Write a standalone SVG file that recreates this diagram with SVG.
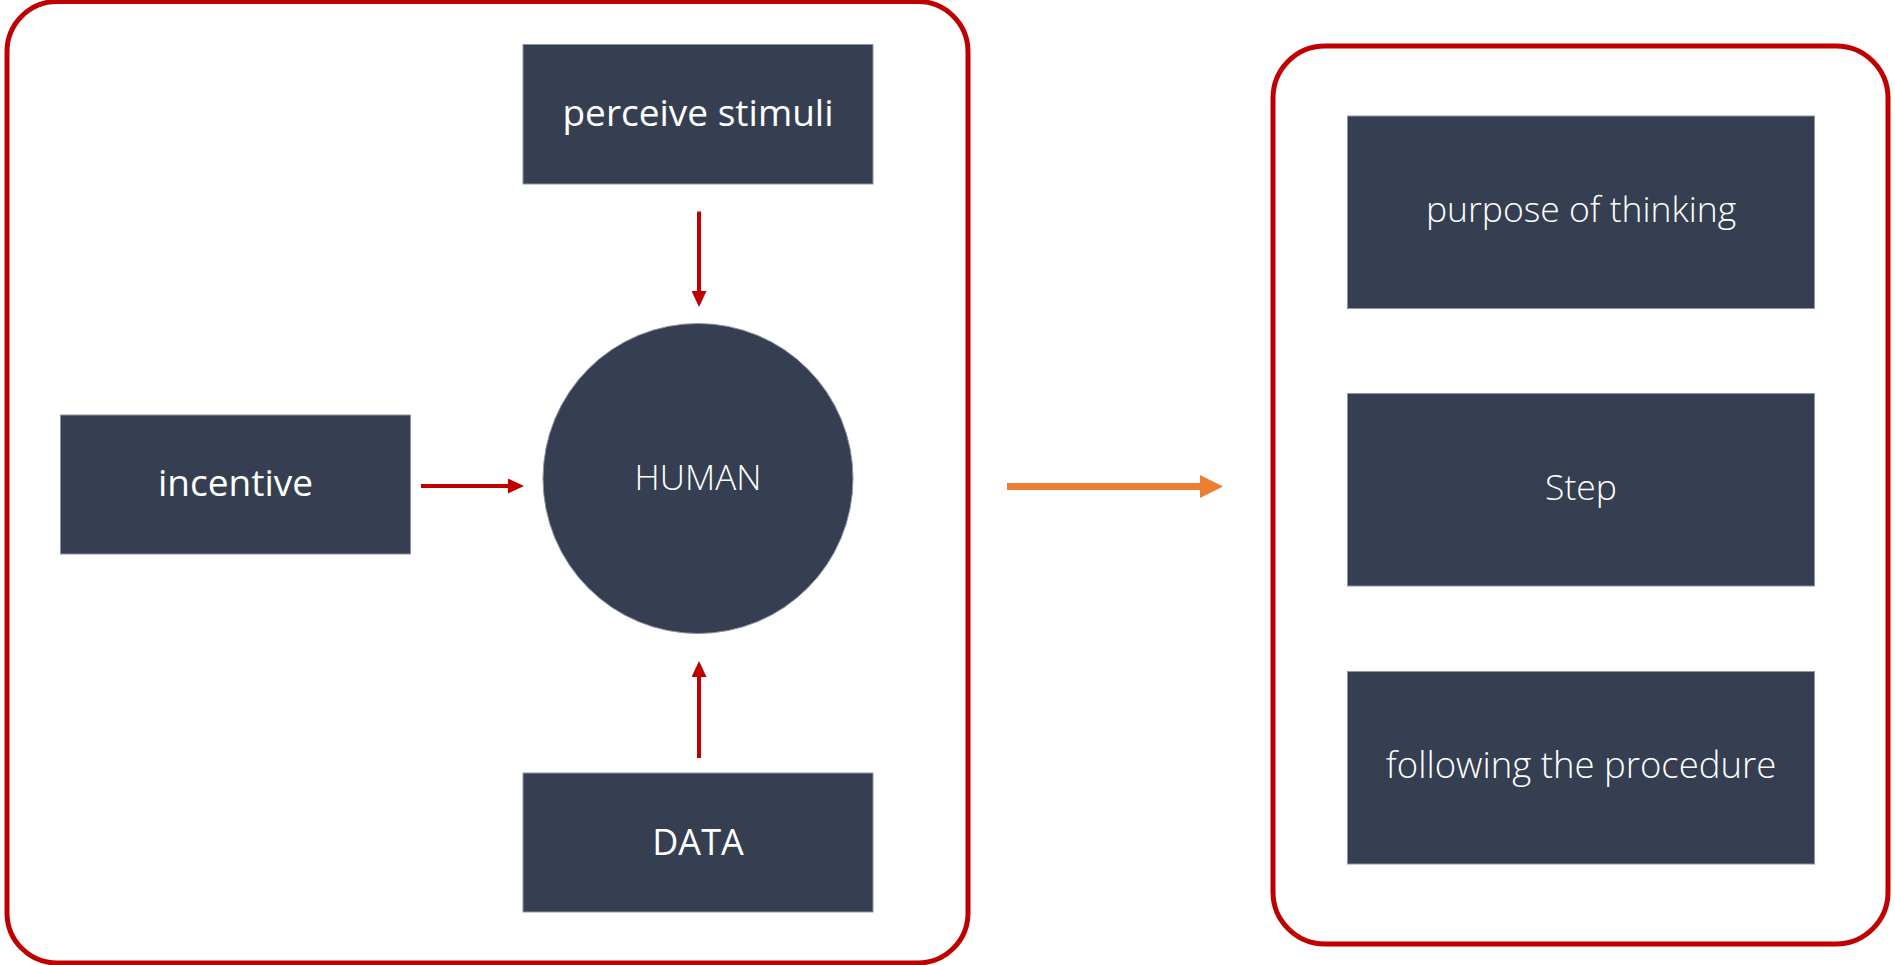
<svg xmlns="http://www.w3.org/2000/svg" width="1895" height="965" viewBox="0 0 1895 965">
<defs>
<style>
.frame{fill:#ffffff;stroke:#C00000;stroke-width:5}
.box{fill:#353F51;stroke:#8c95a3;stroke-width:1}
.t{fill:#ffffff;font-family:"Open Sans","Noto Sans","Liberation Sans",sans-serif;text-anchor:middle}
.reg{font-size:37px;font-weight:400}
.lt{font-size:35.5px;font-weight:300}
.red{stroke:#C00000;stroke-width:4;fill:none}
.org{stroke:#ED7D31;stroke-width:7;fill:none}
</style>
<marker id="hr" markerUnits="userSpaceOnUse" markerWidth="16" markerHeight="15" refX="1" refY="7.5" orient="auto">
<path d="M0,0 L16,7.5 L0,15 Z" fill="#C00000"/>
</marker>
<marker id="ho" markerUnits="userSpaceOnUse" markerWidth="23" markerHeight="23" refX="1" refY="11.5" orient="auto">
<path d="M0,0 L23,11.5 L0,23 Z" fill="#ED7D31"/>
</marker>
</defs>
<rect width="1895" height="965" fill="#ffffff"/>
<g id="frame-left"><rect class="frame" x="7" y="1.5" width="961" height="961.5" rx="50" ry="50"/></g>
<g id="frame-right"><rect class="frame" x="1273" y="46" width="615" height="898" rx="52" ry="52"/></g>
<g id="perceive-stimuli"><rect class="box" x="523" y="44.5" width="350" height="139.5"/><text class="t reg" x="698" y="126">perceive stimuli</text></g>
<g id="incentive"><rect class="box" x="60.5" y="415" width="350" height="139"/><text class="t reg" x="235.5" y="496">incentive</text></g>
<g id="data"><rect class="box" x="523" y="773" width="350" height="139"/><text class="t reg" x="698" y="855" style="font-size:36px">DATA</text></g>
<g id="human"><circle class="box" cx="698" cy="478.5" r="155"/><text class="t lt" x="698" y="490" style="font-size:35px">HUMAN</text></g>
<g id="purpose"><rect class="box" x="1347.5" y="116" width="467" height="192.5"/><text class="t lt" x="1581" y="222">purpose of thinking</text></g>
<g id="step"><rect class="box" x="1347.5" y="393.5" width="467" height="192.5"/><text class="t lt" x="1581" y="500">Step</text></g>
<g id="procedure"><rect class="box" x="1347.5" y="671.5" width="467" height="192.5"/><text class="t lt" x="1581" y="778" style="font-size:36.5px">following the procedure</text></g>
<g id="connectors">
<line class="red" x1="699" y1="211.5" x2="699" y2="292" marker-end="url(#hr)"/>
<line class="red" x1="421" y1="486" x2="509" y2="486" marker-end="url(#hr)"/>
<line class="red" x1="699" y1="758" x2="699" y2="676" marker-end="url(#hr)"/>
<line class="org" x1="1007" y1="486.5" x2="1201" y2="486.5" marker-end="url(#ho)"/>
</g>
</svg>
